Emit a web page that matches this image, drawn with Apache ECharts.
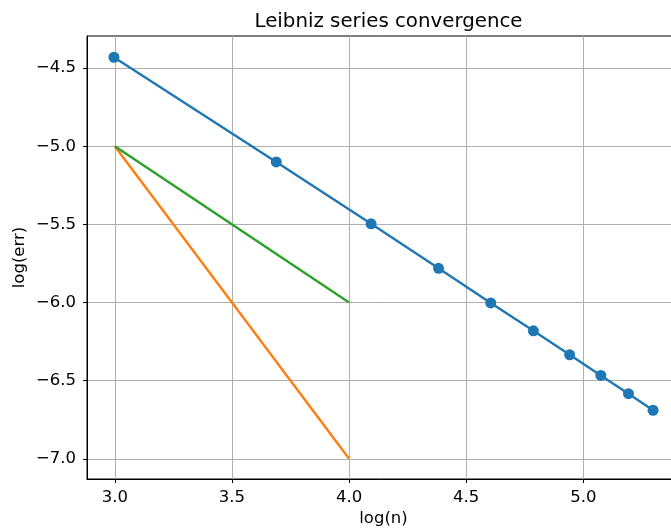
<!DOCTYPE html>
<html>
<head>
<meta charset="utf-8">
<script src="https://cdn.jsdelivr.net/npm/echarts@6/dist/echarts.min.js"></script>
<style>
html,body{margin:0;padding:0;background:#fff;}
#c{width:671px;height:529px;}
</style>
</head>
<body>
<div id="c"></div>
<script>
// Data
const logN = [2.996, 3.689, 4.094, 4.382, 4.605, 4.787, 4.942, 5.075, 5.193, 5.298];
const logErr = [-4.43, -5.10, -5.496, -5.781, -6.002, -6.181, -6.334, -6.466, -6.583, -6.689];
const refSlope1X = [3.0, 4.0];
const refSlope1Y = [-5.0, -6.0];
const refSlope2X = [3.0, 4.0];
const refSlope2Y = [-5.0, -7.0];
const xTicks = [3.0, 3.5, 4.0, 4.5, 5.0];
const yTicks = [-7.0, -6.5, -6.0, -5.5, -5.0, -4.5];
const titleText = 'Leibniz series convergence';
const xName = 'log(n)';
const yName = 'log(err)';

const FONT = 'DejaVu Sans';
const FS = 16.5;
const chart = echarts.init(document.getElementById('c'), null, {renderer: 'canvas'});
const pair = (xs, ys) => xs.map((x, i) => [x, ys[i]]);

chart.setOption({
  animation: false,
  backgroundColor: '#fff',
  title: {
    text: titleText,
    left: 383.5,
    textAlign: 'center',
    top: 7,
    textStyle: {fontFamily: FONT, fontSize: 19.8, fontWeight: 'normal', color: '#000'}
  },
  grid: {left: 87, right: -9, top: 36, bottom: 50, show: true, borderColor: '#000', borderWidth: 1,
    containLabel: false, outerBoundsMode: 'none'},
  xAxis: {
    type: 'value',
    min: 2.881, max: 5.413,
    name: xName, nameLocation: 'middle', nameGap: 31, nameMoveOverlap: false,
    nameTextStyle: {fontFamily: FONT, fontSize: FS, color: '#000'},
    axisLine: {show: true, onZero: false, lineStyle: {color: '#000', width: 1}},
    axisTick: {show: true, inside: false, length: 4, customValues: xTicks, lineStyle: {color: '#000'}},
    axisLabel: {customValues: xTicks, margin: 10, fontFamily: FONT, fontSize: FS, color: '#000', formatter: v => v.toFixed(1)},
    splitLine: {show: true, lineStyle: {color: '#b0b0b0', width: 1}}
  },
  yAxis: {
    type: 'value',
    min: -7.129, max: -4.294,
    name: yName, nameLocation: 'middle', nameGap: 59, nameRotate: 90, nameMoveOverlap: false,
    nameTextStyle: {fontFamily: FONT, fontSize: FS, color: '#000'},
    axisLine: {show: true, onZero: false, lineStyle: {color: '#000', width: 1}},
    axisTick: {show: true, inside: false, length: 4, customValues: yTicks, lineStyle: {color: '#000'}},
    axisLabel: {customValues: yTicks, margin: 11, fontFamily: FONT, fontSize: FS, color: '#000',
      formatter: v => (v < 0 ? '\u2212' : '') + Math.abs(v).toFixed(1)},
    splitLine: {show: true, lineStyle: {color: '#b0b0b0', width: 1}}
  },
  series: [
    {type: 'line', data: pair(logN, logErr), symbol: 'circle', symbolSize: 11,
      lineStyle: {color: '#1f77b4', width: 2.4}, itemStyle: {color: '#1f77b4'}, z: 3},
    {type: 'line', data: pair(refSlope2X, refSlope2Y), symbol: 'none',
      lineStyle: {color: '#ff7f0e', width: 2.4}, z: 2},
    {type: 'line', data: pair(refSlope1X, refSlope1Y), symbol: 'none',
      lineStyle: {color: '#2ca02c', width: 2.4}, z: 2}
  ]
});
</script>
</body>
</html>
